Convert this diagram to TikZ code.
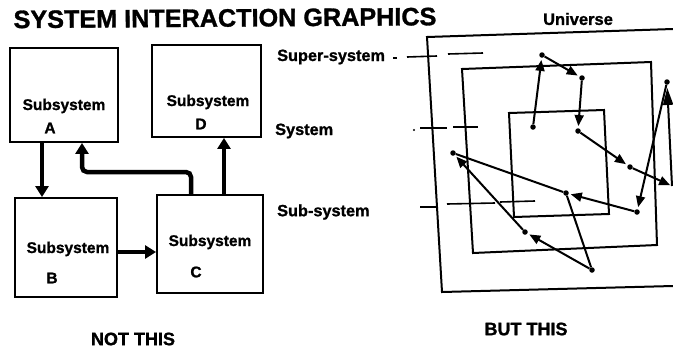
\documentclass[tikz,border=0pt]{standalone}
\usepackage{fontspec}
\setmainfont{Liberation Sans}[BoldFeatures={FakeBold=1.2}]
\usetikzlibrary{arrows.meta}
\begin{document}
\begin{tikzpicture}[x=1pt,y=-1pt,
  sbox/.style={draw, line width=1.9pt, inner sep=0pt},
  bigarrow/.style={line width=4.5pt, -{Triangle[length=11pt,width=13pt]}},
  lbl/.style={font=\fontsize{15.5}{18}\selectfont\bfseries, inner sep=0pt},
  side/.style={font=\fontsize{16.3}{19}\selectfont\bfseries, anchor=west, inner sep=0pt},
  frame/.style={line width=2pt, line join=miter},
  dot/.style={circle, fill, inner sep=0pt, minimum size=5.5pt},
  arr/.style={line width=2pt, -{Triangle[length=11pt,width=9pt]}, shorten >=2pt},
  tallarr/.style={line width=2pt, -{Triangle[length=17pt,width=10pt]}, shorten >=3pt},
  plain/.style={line width=2pt},
  guide/.style={line width=1.6pt}
]
\useasboundingbox (0,0) rectangle (673,349);

% title and captions
\node[font=\fontsize{25.2}{30}\selectfont\bfseries, rotate=0.4, inner sep=0pt] (title) at (225,18) {SYSTEM INTERACTION GRAPHICS};
\node[font=\fontsize{18}{21}\selectfont\bfseries, inner sep=0pt] (not) at (133,339) {NOT THIS};
\node[font=\fontsize{18}{21}\selectfont\bfseries, inner sep=0pt] (but) at (526,329) {BUT THIS};
\node[font=\fontsize{16.5}{19}\selectfont\bfseries, inner sep=0pt] (univ) at (578,19) {Universe};

% left: subsystem boxes
\node[sbox, minimum width=108pt, minimum height=94pt] (A) at (64,95) {};
\node[sbox, minimum width=109pt, minimum height=92pt] (D) at (206.5,91) {};
\node[sbox, minimum width=102pt, minimum height=99pt] (B) at (66,247.5) {};
\node[sbox, minimum width=106pt, minimum height=98pt] (C) at (210,244) {};

\node[lbl] (At) at (64,106) {Subsystem};
\node[lbl] (Al) at (50,128) {A};
\node[lbl] (Dt) at (208,102) {Subsystem};
\node[lbl] (Dl) at (201,124) {D};
\node[lbl] (Bt) at (68,249) {Subsystem};
\node[lbl] (Bl) at (52,278) {B};
\node[lbl] (Ct) at (210,242) {Subsystem};
\node[lbl] (Cl) at (196,272) {C};

% left: connectors
\coordinate (xab) at (42,0);
\coordinate (xca) at (191,0);
\coordinate (yca) at (82,172);
\coordinate (xcd) at (224,0);
\coordinate (ybc) at (0,252);
\draw[bigarrow] (A.south -| xab) -- (B.north -| xab);
\draw[bigarrow, rounded corners=5pt] (C.north -| xca) |- (yca) -- (A.south -| yca);
\draw[bigarrow] (C.north -| xcd) -- (D.south -| xcd);
\draw[bigarrow] (B.east |- ybc) -- (C.west |- ybc);

% right: level labels and guide dashes
\node[side] (lsup) at (277,57) {Super-system};
\node[side] (lsys) at (275,131) {System};
\node[side] (lsub) at (277,212) {Sub-system};

\draw[guide] (393,58) -- (397,58);
\draw[guide] (407,57) -- (437,56);
\draw[guide] (448,54) -- (483,53);
\fill (414,130) circle (1.2pt);
\draw[guide] (420,128) -- (447,128);
\draw[guide] (453,127) -- (478,127);
\draw[guide] (420,207) -- (437,207);
\draw[guide] (447,204) -- (495,203);
\draw[guide] (500,202) -- (535,201);

% right: nested frames
\draw[frame] (673,29) -- (427,37) -- (442,292) -- (673,286);
\draw[frame] (462,69) -- (651,62) -- (657,245) -- (473,253) -- cycle;
\draw[frame] (509,113) -- (604,110) -- (609,214) -- (514,217) -- cycle;

% right: interaction path
\node[dot] (p1) at (533,127) {};
\node[dot] (p2) at (542,55) {};
\node[dot] (p3) at (582,78) {};
\node[dot] (p4) at (578,131) {};
\node[dot] (p5) at (630,167) {};
\coordinate (p6) at (672,186);
\node[dot] (p7) at (667,82) {};
\node[dot] (p8) at (637,212) {};
\node[dot] (p9) at (566,193) {};
\node[dot] (p10) at (592,270) {};
\node[dot] (p11) at (525,232) {};
\node[dot] (p12) at (453,153) {};

\draw[arr] (p1) -- (p2);
\draw[arr] (p2) -- (p3);
\draw[arr] (p3) -- (p4);
\draw[arr] (p4) -- (p5);
\draw[arr] (p5) -- (p6);
\draw[tallarr] (p6) -- (p7);
\draw[arr] (p7) -- (p8);
\draw[arr] (p8) -- (p9);
\draw[plain] (p9) -- (p10);
\draw[arr] (p10) -- (p11);
\draw[arr] (p11) -- (p12);
\draw[plain] (p12) -- (p9);
\end{tikzpicture}
\end{document}
